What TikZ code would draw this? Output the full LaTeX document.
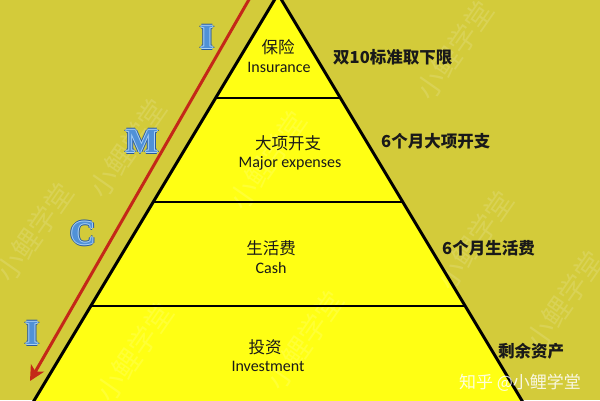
\documentclass[tikz,border=0pt]{standalone}
\usepackage{fontspec}
\setmainfont{Carlito}
\newfontfamily\cjk{Noto Sans CJK SC}
\newfontfamily\serifletter{Liberation Serif}
\usetikzlibrary{calc,arrows.meta}
\definecolor{bgolive}{RGB}{211,203,58}
\definecolor{pyryellow}{RGB}{255,255,20}
\definecolor{arrowred}{RGB}{196,40,24}
\definecolor{ltrdark}{RGB}{40,90,160}
\definecolor{ltrlight}{RGB}{170,210,245}
\definecolor{ltrmid}{RGB}{80,145,215}
\definecolor{txtdark}{RGB}{25,25,25}
\newcommand\glowletter[1]{\leavevmode
  \rlap{\hspace*{-2pt}\textcolor{ltrdark}{#1}}%
  \rlap{\hspace*{2pt}\textcolor{ltrdark}{#1}}%
  \rlap{\raisebox{2pt}{\textcolor{ltrdark}{#1}}}%
  \rlap{\raisebox{-2pt}{\textcolor{ltrdark}{#1}}}%
  \rlap{\hspace*{-1pt}\textcolor{ltrlight}{#1}}%
  \rlap{\hspace*{1pt}\textcolor{ltrlight}{#1}}%
  \rlap{\raisebox{1pt}{\textcolor{ltrlight}{#1}}}%
  \rlap{\raisebox{-1pt}{\textcolor{ltrlight}{#1}}}%
  \textcolor{ltrmid}{#1}}
\tikzset{
  zhin/.style={font=\cjk\fontsize{16.5}{18}\selectfont, text=txtdark, inner sep=0pt},
  enin/.style={font=\fontsize{16}{18}\selectfont, text=txtdark, inner sep=0pt},
  zhright/.style={font=\cjk\bfseries\fontsize{16.5}{18}\selectfont, text=txtdark, inner sep=0pt, anchor=west},
  icm/.style={font=\serifletter\bfseries\fontsize{34}{36}\selectfont, inner sep=0pt},
  wmark/.style={font=\cjk\fontsize{28}{30}\selectfont, text=white, text opacity=0.14, rotate=55, inner sep=0pt},
  level/.style={draw=black, line width=2pt},
}
\begin{document}
\begin{tikzpicture}[x=1pt,y=-1pt]
\useasboundingbox (0,0) rectangle (600,400);
\fill[bgolive] (0,0) rectangle (600,400);
\begin{scope}
\clip (0,0) rectangle (600,400);
\coordinate (A) at (278,-6);
\coordinate (L) at (28.4,410);
\coordinate (R) at (527.6,410);
\fill[pyryellow] (A) -- (L) -- (R) -- cycle;
% watermarks
\node[wmark] (wm1) at (128,148) {小鲤学堂};
\node[wmark] (wm2) at (268,160) {小鲤学堂};
\node[wmark] (wm3) at (35,232) {小鲤学堂};
\node[wmark] (wm4) at (135,352) {小鲤学堂};
\node[wmark] (wm5) at (305,340) {小鲤学堂};
\node[wmark] (wm6) at (475,240) {小鲤学堂};
\node[wmark] (wm7) at (455,50) {小鲤学堂};
\node[wmark] (wm8) at (565,300) {小鲤学堂};
\draw[level] ($(A)!0.25!(L)$) -- ($(A)!0.25!(R)$);
\draw[level] ($(A)!0.5!(L)$) -- ($(A)!0.5!(R)$);
\draw[level] ($(A)!0.75!(L)$) -- ($(A)!0.75!(R)$);
\draw[black, line width=3pt, line join=miter] (L) -- (A) -- (R);
% red arrow
\coordinate (rs) at (251,-4);
\coordinate (re) at (30,381);
\draw[arrowred, line width=3pt, -{Stealth[length=15pt,width=15pt,inset=4pt]}] (rs) -- (re);
\end{scope}
% ICMI letters
\node[icm] (lI1) at (207,37) {\glowletter{I}};
\node[icm] (lM) at (142,141) {\glowletter{M}};
\node[icm] (lC) at (83,233) {\glowletter{C}};
\node[icm] (lI2) at (32,333) {\glowletter{I}};
% inner labels
\node[zhin] (insZh) at (278,47) {保险};
\node[enin] (insEn) at (279,67) {Insurance};
\node[zhin] (majZh) at (288,143) {大项开支};
\node[enin] (majEn) at (290,163) {Major expenses};
\node[zhin] (cashZh) at (271,248) {生活费};
\node[enin] (cashEn) at (271,268) {Cash};
\node[zhin] (invZh) at (265,347) {投资};
\node[enin] (invEn) at (268,366) {Investment};
% right labels
\node[zhright] (r1) at (333,57) {双10标准取下限};
\node[zhright] (r2) at (381,141) {6个月大项开支};
\node[zhright] (r3) at (442,248) {6个月生活费};
\node[zhright] (r4) at (498,351) {剩余资产};
% bottom watermark
\node[font=\cjk\fontsize{17}{19}\selectfont, text=white, text opacity=0.85, inner sep=0pt] (zhihu) at (520,383) {知乎 @小鲤学堂};
\end{tikzpicture}
\end{document}
